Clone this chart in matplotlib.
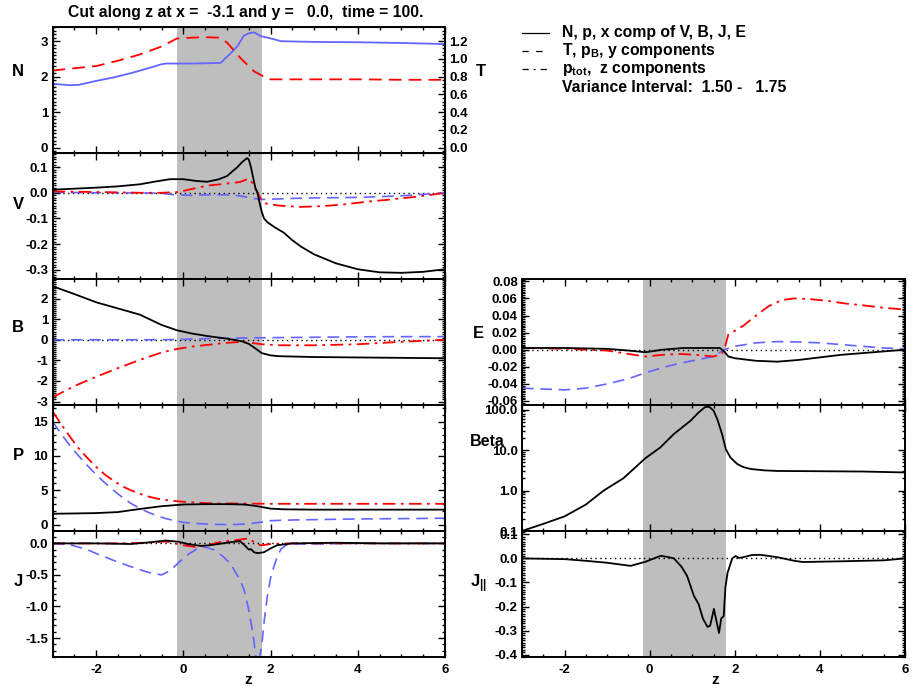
import matplotlib
matplotlib.use("Agg")
import matplotlib.pyplot as plt
from matplotlib.lines import Line2D
from matplotlib.ticker import MultipleLocator, FormatStrFormatter, FixedLocator, LogLocator, NullFormatter

plt.rcParams['font.family'] = ['Liberation Sans', 'DejaVu Sans']
plt.rcParams['font.weight'] = 'bold'
plt.rcParams['axes.unicode_minus'] = False
plt.rcParams['mathtext.fontset'] = 'custom'
plt.rcParams['mathtext.rm'] = 'Liberation Sans:bold'
plt.rcParams['mathtext.it'] = 'Liberation Sans:bold'
plt.rcParams['mathtext.bf'] = 'Liberation Sans:bold'

# ---- data ----
shade = (-0.15, 1.8)

n_z = [-3, -2.6, -2.4, -2.0, -1.6, -1.2, -0.8, -0.5, -0.4, 0.2, 0.6, 0.86, 0.93, 1.08, 1.24, 1.39, 1.5, 1.62, 1.78, 2.0, 2.24, 3, 4, 5, 6]
n_val = [1.80, 1.76, 1.77, 1.88, 1.98, 2.10, 2.24, 2.35, 2.37, 2.37, 2.38, 2.39, 2.48, 2.65, 2.86, 3.16, 3.22, 3.25, 3.14, 3.08, 3.0, 2.98, 2.97, 2.95, 2.92]
t_z = [-3, -2.6, -2.0, -1.5, -1.0, -0.5, -0.15, 0.2, 0.5, 0.85, 1.01, 1.31, 1.62, 1.85, 2.0, 3, 4, 5, 6]
t_val = [0.87, 0.89, 0.92, 0.98, 1.05, 1.14, 1.23, 1.24, 1.245, 1.24, 1.18, 1.01, 0.86, 0.80, 0.77, 0.77, 0.77, 0.765, 0.765]

vx_z = [-3, -2.5, -2, -1.5, -1, -0.6, -0.3, 0, 0.3, 0.55, 0.8, 1.0, 1.24, 1.35, 1.46, 1.5, 1.55, 1.6, 1.65, 1.7, 1.75, 1.8, 1.85, 1.93, 2.1, 2.3, 2.5, 2.7, 3.0, 3.5, 4.0, 4.5, 5.0, 5.5, 6.0]
vx_val = [0.012, 0.016, 0.020, 0.025, 0.033, 0.045, 0.053, 0.053, 0.046, 0.043, 0.052, 0.065, 0.10, 0.12, 0.135, 0.13, 0.10, 0.06, 0.02, 0.0, -0.04, -0.075, -0.10, -0.115, -0.135, -0.155, -0.185, -0.21, -0.24, -0.275, -0.298, -0.31, -0.312, -0.308, -0.298]
vy_z = [-3, -2, -1, -0.5, -0.2, 0.2, 0.6, 1.0, 1.3, 1.6, 1.8, 2.0, 2.5, 3.0, 3.5, 4.0, 4.5, 5.0, 5.5, 6.0]
vy_val = [0.002, 0.0, 0.0, -0.002, -0.008, -0.010, -0.008, -0.008, -0.012, -0.022, -0.026, -0.025, -0.022, -0.020, -0.019, -0.018, -0.015, -0.012, -0.006, 0.0]
vz_z = [-3, -2, -1, -0.5, -0.1, 0.2, 0.55, 0.9, 1.3, 1.45, 1.5, 1.6, 1.7, 1.8, 1.9, 2.2, 2.7, 3.2, 3.7, 4.2, 4.7, 5.2, 5.6, 6.0]
vz_val = [0.005, 0.003, 0.0, 0.0, 0.003, 0.015, 0.028, 0.034, 0.042, 0.052, 0.055, 0.035, 0.0, -0.03, -0.042, -0.05, -0.055, -0.052, -0.045, -0.035, -0.027, -0.018, -0.010, 0.0]

bx_z = [-3, -2.5, -2, -1.5, -1, -0.5, -0.15, 0.2, 0.55, 0.9, 1.16, 1.35, 1.5, 1.65, 1.8, 2.0, 2.2, 3, 4, 5, 6]
bx_val = [2.6, 2.22, 1.82, 1.52, 1.22, 0.72, 0.46, 0.3, 0.18, 0.08, 0.0, -0.08, -0.2, -0.42, -0.65, -0.76, -0.8, -0.84, -0.86, -0.88, -0.9]
by_z = [-3, -1.5, -0.5, 0, 0.5, 1.0, 1.5, 2.0, 3.0, 4.0, 5.0, 6.0]
by_val = [0.0, 0.0, 0.0, 0.02, 0.05, 0.08, 0.09, 0.1, 0.12, 0.14, 0.15, 0.15]
bz_z = [-3, -2.5, -2, -1.5, -1, -0.5, -0.15, 0.2, 0.55, 0.9, 1.2, 1.5, 1.8, 2.2, 3, 4, 5, 5.5, 6]
bz_val = [-2.8, -2.25, -1.8, -1.38, -0.98, -0.62, -0.45, -0.33, -0.25, -0.17, -0.12, -0.14, -0.22, -0.27, -0.27, -0.22, -0.1, -0.05, 0.0]

p_z = [-3, -2, -1.5, -1, -0.5, 0, 0.5, 1.0, 1.4, 1.7, 2.0, 2.3, 3, 4, 5, 6]
p_val = [1.6, 1.7, 1.85, 2.3, 2.7, 2.95, 3.0, 3.0, 2.95, 2.7, 2.35, 2.25, 2.2, 2.2, 2.2, 2.2]
pb_z = [-3, -2.8, -2.6, -2.4, -2.2, -2.0, -1.8, -1.6, -1.4, -1.2, -1.0, -0.8, -0.6, -0.4, -0.2, 0, 0.4, 0.8, 1.2, 1.5, 1.8, 2.0, 2.5, 3, 4, 5, 6]
pb_val = [15.0, 13.2, 11.5, 10.0, 8.6, 7.3, 6.1, 5.0, 4.0, 3.1, 2.4, 1.8, 1.3, 0.9, 0.6, 0.35, 0.15, 0.05, 0.05, 0.15, 0.4, 0.6, 0.7, 0.75, 0.85, 0.9, 0.95]
ptot_z = [-3, -2.8, -2.6, -2.4, -2.2, -2.0, -1.8, -1.6, -1.4, -1.2, -1.0, -0.8, -0.6, -0.4, -0.2, 0, 0.5, 1, 2, 3, 4, 5, 6]
ptot_val = [16.5, 14.6, 12.8, 11.1, 9.7, 8.4, 7.3, 6.4, 5.6, 5.0, 4.5, 4.1, 3.8, 3.6, 3.45, 3.35, 3.15, 3.1, 3.05, 3.05, 3.05, 3.05, 3.05]

jx_z = [-3, -2, -1.2, -0.8, -0.4, -0.1, 0.1, 0.4, 0.6, 0.9, 1.1, 1.3, 1.42, 1.5, 1.55, 1.62, 1.7, 1.85, 2.0, 2.15, 2.5, 3.5, 4.5, 6]
jx_val = [0.0, 0.0, -0.01, 0.015, 0.045, 0.025, -0.01, -0.04, -0.03, 0.0, 0.02, 0.035, -0.04, -0.1, -0.09, -0.14, -0.155, -0.14, -0.08, -0.03, 0.0, 0.01, 0.0, 0.0]
jy_z = [-3, -2.6, -2.2, -2.0, -1.6, -1.2, -0.8, -0.5, -0.3, -0.1, 0.1, 0.3, 0.5, 0.7, 0.9, 1.1, 1.3, 1.4, 1.5, 1.6, 1.67, 1.72, 1.8, 1.85, 1.93, 2.0, 2.08, 2.16, 2.24, 2.35, 2.5, 3, 4, 5, 6]
jy_val = [0.0, -0.02, -0.1, -0.16, -0.27, -0.37, -0.46, -0.5, -0.43, -0.3, -0.18, -0.09, -0.06, -0.1, -0.2, -0.34, -0.58, -0.75, -1.05, -1.45, -1.85, -1.95, -1.6, -1.25, -0.82, -0.55, -0.36, -0.2, -0.09, -0.03, -0.01, -0.01, 0.0, 0.0, 0.0]
jz_z = [-3, -1.5, -0.8, -0.4, 0, 0.3, 0.6, 0.9, 1.2, 1.4, 1.5, 1.6, 1.7, 1.8, 2.0, 2.5, 6]
jz_val = [0.0, 0.0, 0.01, 0.03, -0.03, -0.06, -0.02, 0.03, 0.05, 0.07, 0.08, 0.03, -0.02, -0.03, -0.01, 0.0, 0.0]

ex_z = [-3, -2, -1, -0.5, -0.1, 0.3, 0.8, 1.3, 1.65, 1.75, 1.85, 2.0, 2.5, 3.0, 3.5, 4.0, 4.5, 5.0, 5.5, 6]
ex_val = [0.002, 0.002, 0.001, -0.001, -0.003, 0.0, 0.002, 0.002, 0.002, -0.002, -0.008, -0.01, -0.013, -0.014, -0.012, -0.009, -0.006, -0.004, -0.002, 0.0]
ey_z = [-3, -2.5, -2, -1.5, -1, -0.5, -0.1, 0.3, 0.7, 1.1, 1.5, 1.75, 2.0, 2.5, 3.0, 3.5, 4.0, 4.5, 5.0, 5.5, 6]
ey_val = [-0.045, -0.046, -0.047, -0.045, -0.04, -0.034, -0.027, -0.021, -0.016, -0.012, -0.008, 0.0, 0.004, 0.008, 0.0095, 0.009, 0.008, 0.006, 0.004, 0.002, 0.001]
ez_z = [-3, -2, -1, -0.5, -0.1, 0.3, 0.7, 1.1, 1.5, 1.7, 1.78, 1.85, 2.0, 2.2, 2.5, 2.8, 3.1, 3.4, 3.8, 4.2, 4.6, 5.0, 5.5, 6]
ez_val = [0.002, 0.001, -0.001, -0.005, -0.008, -0.006, -0.005, -0.006, -0.008, -0.005, 0.005, 0.018, 0.022, 0.028, 0.040, 0.051, 0.058, 0.060, 0.059, 0.057, 0.054, 0.052, 0.049, 0.047]

beta_z = [-3, -2.5, -2, -1.5, -1.08, -0.62, -0.1, 0.25, 0.57, 0.96, 1.15, 1.3, 1.4, 1.5, 1.59, 1.7, 1.79, 1.9, 2.06, 2.2, 2.38, 2.7, 3, 4, 5, 6]
beta_val = [0.1, 0.15, 0.23, 0.45, 1.0, 2.0, 6.3, 11.6, 25, 53, 85, 115, 118, 95, 58, 25, 10.5, 6.5, 4.5, 3.8, 3.4, 3.15, 3.05, 3.0, 2.95, 2.8]

jpar_z = [-3, -2, -1.5, -1, -0.45, -0.1, 0.26, 0.45, 0.57, 0.75, 0.88, 1.04, 1.15, 1.25, 1.36, 1.42, 1.51, 1.58, 1.63, 1.68, 1.74, 1.78, 1.83, 1.94, 2.02, 2.1, 2.2, 2.4, 2.6, 3.0, 3.4, 3.6, 4.5, 5.5, 6]
jpar_val = [0.0, -0.003, -0.01, -0.018, -0.031, -0.014, 0.011, 0.005, 0.0, -0.035, -0.073, -0.156, -0.19, -0.25, -0.285, -0.28, -0.21, -0.27, -0.31, -0.25, -0.24, -0.12, -0.06, 0.0, 0.01, 0.002, 0.005, 0.014, 0.015, 0.005, -0.01, -0.015, -0.012, -0.008, 0.0]

# ---- styles ----
BLUE = '#6464ff'
SOLID = dict(color='black', lw=1.3)
RED_DASH = dict(color='red', lw=1.3, ls=(0, (7, 4)))
BLUE_DASH = dict(color=BLUE, lw=1.2, ls=(0, (7, 4)))
RED_DOTDASH = dict(color='red', lw=1.3, ls=(0, (7, 3, 1.5, 3)))
ZERO = dict(color='black', lw=1.0, ls=(0, (1, 2.5)))
TICK_SIZE = 9.5

W, H = 913, 688
fig = plt.figure(figsize=(W / 100, H / 100), dpi=100)


def box(x0, y0, x1, y1):
    return [x0 / W, 1 - y1 / H, (x1 - x0) / W, (y1 - y0) / H]


def ftext(x, y, s, **kw):
    fig.text(x / W, 1 - y / H, s, ha='center', va='center', fontweight='bold', **kw)


def style(ax, ylim, major, minor, fmt, bottom_labels=False, right=True):
    ax.set_xlim(-3, 6)
    ax.set_ylim(*ylim)
    ax.axvspan(shade[0], shade[1], color='#bebebe', lw=0, zorder=0)
    ax.xaxis.set_major_locator(FixedLocator([-2, 0, 2, 4, 6]))
    ax.xaxis.set_minor_locator(MultipleLocator(0.5))
    if major is not None:
        ax.yaxis.set_major_locator(MultipleLocator(major))
        ax.yaxis.set_minor_locator(MultipleLocator(minor))
        ax.yaxis.set_major_formatter(FormatStrFormatter(fmt))
    ax.tick_params(which='both', direction='in', top=True, bottom=True, left=True, right=right,
                   labelsize=TICK_SIZE, width=1)
    ax.tick_params(which='major', length=5)
    ax.tick_params(which='minor', length=2.5)
    ax.tick_params(axis='x', labelbottom=bottom_labels, pad=5)
    ax.tick_params(axis='y', pad=3)
    for s in ax.spines.values():
        s.set_linewidth(1.4)
    for lab in ax.get_xticklabels() + ax.get_yticklabels():
        lab.set_fontweight('bold')


rows = [27, 153, 279, 405, 531, 657]
axN = fig.add_axes(box(52.5, rows[0], 445, rows[1]))
axV = fig.add_axes(box(52.5, rows[1], 445, rows[2]))
axB = fig.add_axes(box(52.5, rows[2], 445, rows[3]))
axP = fig.add_axes(box(52.5, rows[3], 445, rows[4]))
axJ = fig.add_axes(box(52.5, rows[4], 445, rows[5]))
axE = fig.add_axes(box(522, rows[2], 905, rows[3]))
axBeta = fig.add_axes(box(522, rows[3], 905, rows[4]))
axJp = fig.add_axes(box(522, rows[4], 905, rows[5]))

# N and T
axN.plot(n_z, n_val, color=BLUE, lw=1.3)
style(axN, (-0.15, 3.4), 1, 0.1, '%d', right=False)
axT = axN.twinx()
axT.plot(t_z, t_val, **RED_DASH)
axT.set_ylim(-0.06, 1.36)
axT.yaxis.set_major_locator(MultipleLocator(0.2))
axT.yaxis.set_minor_locator(MultipleLocator(0.04))
axT.yaxis.set_major_formatter(FormatStrFormatter('%.1f'))
axT.tick_params(which='both', direction='in', labelsize=TICK_SIZE, width=1, pad=3)
axT.tick_params(which='major', length=5)
axT.tick_params(which='minor', length=2.5)
for lab in axT.get_yticklabels():
    lab.set_fontweight('bold')

# V
axV.axhline(0, **ZERO)
axV.plot(vy_z, vy_val, **BLUE_DASH)
axV.plot(vz_z, vz_val, **RED_DOTDASH)
axV.plot(vx_z, vx_val, **SOLID)
style(axV, (-0.336, 0.155), 0.1, 0.01, '%.1f')

# B
axB.axhline(0, **ZERO)
axB.plot(by_z, by_val, **BLUE_DASH)
axB.plot(bz_z, bz_val, **RED_DOTDASH)
axB.plot(bx_z, bx_val, **SOLID)
style(axB, (-3.17, 2.95), 1, 0.1, '%d')

# P
axP.plot(pb_z, pb_val, **BLUE_DASH)
axP.plot(ptot_z, ptot_val, **RED_DOTDASH)
axP.plot(p_z, p_val, **SOLID)
style(axP, (-0.9, 17.4), 5, 1, '%d')

# J
axJ.axhline(0, **ZERO)
axJ.plot(jy_z, jy_val, **BLUE_DASH)
axJ.plot(jz_z, jz_val, **RED_DOTDASH)
axJ.plot(jx_z, jx_val, **SOLID)
style(axJ, (-1.80, 0.196), 0.5, 0.1, '%.1f', bottom_labels=True)

# E
axE.axhline(0, **ZERO)
axE.plot(ey_z, ey_val, **BLUE_DASH)
axE.plot(ez_z, ez_val, **RED_DOTDASH)
axE.plot(ex_z, ex_val, **SOLID)
style(axE, (-0.0647, 0.0827), 0.02, 0.002, '%.2f')

# Beta (log)
axBeta.set_yscale('log')
axBeta.plot(beta_z, beta_val, **SOLID)
style(axBeta, (0.1, 130), None, None, None)
axBeta.yaxis.set_major_locator(FixedLocator([0.1, 1, 10, 100]))
axBeta.yaxis.set_minor_locator(LogLocator(subs=[2, 3, 4, 5, 6, 7, 8, 9]))
axBeta.yaxis.set_minor_formatter(NullFormatter())
axBeta.set_yticklabels(['0.1', '1.0', '10.0', '100.0'], fontweight='bold')

# J parallel
axJp.axhline(0, **ZERO)
axJp.plot(jpar_z, jpar_val, **SOLID)
style(axJp, (-0.41, 0.114), 0.1, 0.01, '%.1f', bottom_labels=True)

# panel labels
for s, y in [('N', 72), ('V', 204), ('B', 328), ('P', 456), ('J', 582)]:
    ftext(18, y, s, fontsize=12)
ftext(481, 71, 'T', fontsize=12)
ftext(478, 333, 'E', fontsize=12)
ftext(487, 441, 'Beta', fontsize=11.5)
ftext(479, 584, r'J$_{||}$', fontsize=12)
ftext(248, 680, 'z', fontsize=11)
ftext(715, 680, 'z', fontsize=11)

ftext(246, 12, 'Cut along z at x =  -3.1 and y =   0.0,  time = 100.', fontsize=11.3)

# legend block
leg_rows = [
    ('-', 'N, p, x comp of V, B, J, E'),
    ((0, (5, 6)), r'T, p$_\mathrm{B}$, y components'),
    ((0, (5, 4, 1.5, 4)), r'p$_\mathrm{tot}$,  z components'),
    (None, 'Variance Interval:  1.50 -   1.75'),
]
for i, (ls, txt) in enumerate(leg_rows):
    y = 33 + 18 * i
    if ls is not None:
        fig.add_artist(Line2D([522 / W, 549 / W], [1 - y / H, 1 - y / H], transform=fig.transFigure,
                              color='black', lw=0.9, ls=ls))
    fig.text(562 / W, 1 - y / H, txt, ha='left', va='center', fontsize=11.3, fontweight='bold')

fig.savefig('out.png', dpi=100)
